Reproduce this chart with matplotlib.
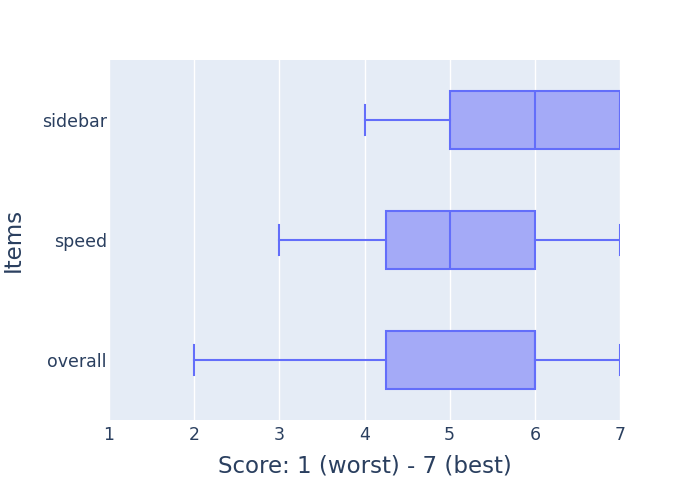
import matplotlib
matplotlib.use("Agg")
import matplotlib.pyplot as plt

items = ["overall", "speed", "sidebar"]
whisker_low = [2, 3, 4]
q1 = [4.25, 4.25, 5]
median = [6, 5, 6]
q3 = [6, 6, 7]
whisker_high = [7, 7, 7]

line_color = "#636EFA"
fill_color = "#A4AAF7"
bg_color = "#E5ECF6"
text_color = "#2a3f5f"

stats = []
for name, lo, a, m, b, hi in zip(items, whisker_low, q1, median, q3, whisker_high):
    stats.append({"label": name, "whislo": lo, "q1": a, "med": m, "q3": b,
                  "whishi": hi, "fliers": []})

fig = plt.figure(figsize=(7, 5), dpi=100)
ax = fig.add_axes([109 / 700, 80 / 500, 511 / 700, 360 / 500])
ax.set_facecolor(bg_color)

ax.bxp(stats, positions=range(len(items)), vert=False, widths=0.49,
       patch_artist=True, showfliers=False,
       boxprops=dict(facecolor=fill_color, edgecolor=line_color, linewidth=1.5),
       medianprops=dict(color=line_color, linewidth=1.5),
       whiskerprops=dict(color=line_color, linewidth=1.5),
       capprops=dict(color=line_color, linewidth=1.5),
       capwidths=0.245)

ax.set_xlim(1, 7)
ax.set_ylim(-0.5, 2.5)
ax.set_xticks(range(1, 8))
ax.set_yticks(range(len(items)))
ax.set_yticklabels(items)
ax.grid(axis="x", color="white", linewidth=1)
ax.set_axisbelow(True)
for s in ax.spines.values():
    s.set_visible(False)
ax.tick_params(length=0, labelsize=12.5, colors=text_color)
ax.tick_params(axis="y", pad=1.5)
ax.tick_params(axis="x", pad=4)
ax.set_xlabel("Score: 1 (worst) - 7 (best)", fontsize=16.5, color=text_color, labelpad=8)
ax.set_ylabel("Items", fontsize=16.5, color=text_color, labelpad=12)

fig.savefig("out.png", dpi=100)
